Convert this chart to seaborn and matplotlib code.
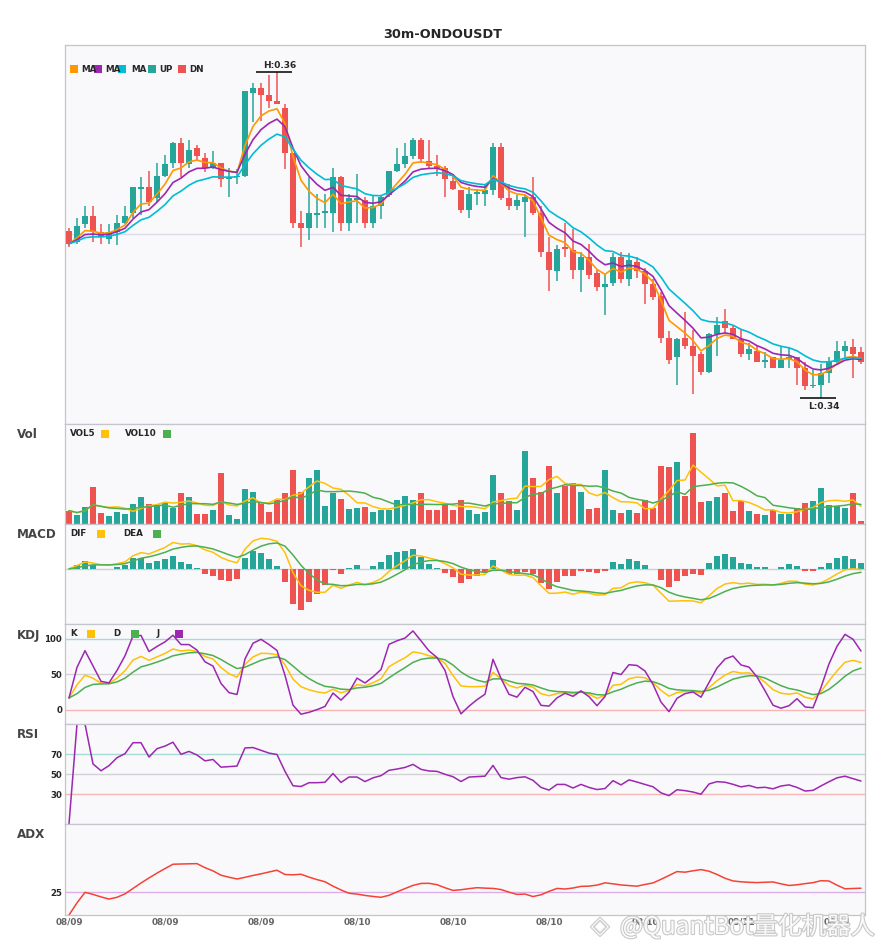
import numpy as np
import pandas as pd
import matplotlib
matplotlib.use("Agg")
import matplotlib.pyplot as plt
import matplotlib.patheffects as pe
from matplotlib.patches import Rectangle
import seaborn as sns

# ---- data: 30m candles, prices in units of 0.0001 USDT, volume in k ----
opens = [3502, 3495, 3506, 3511, 3501, 3497, 3501, 3507, 3513, 3528,
         3529, 3522, 3536, 3544, 3556, 3543, 3553, 3547, 3541, 3544,
         3534, 3535, 3536, 3587, 3590, 3586, 3582, 3578, 3550, 3507,
         3504, 3512, 3513, 3513, 3535, 3507, 3521, 3521, 3507, 3517,
         3524, 3539, 3543, 3548, 3558, 3545, 3542, 3541, 3533, 3527,
         3515, 3525, 3525, 3527, 3554, 3522, 3517, 3520, 3523, 3513,
         3489, 3477, 3492, 3490, 3478, 3486, 3476, 3467, 3470, 3486,
         3472, 3483, 3477, 3469, 3462, 3436, 3424, 3436, 3431, 3426,
         3415, 3438, 3446, 3442, 3435, 3426, 3428, 3421, 3424, 3417,
         3423, 3424, 3417, 3406, 3407, 3414, 3421, 3428, 3430, 3427]
highs = [3504, 3510, 3517, 3517, 3506, 3506, 3512, 3517, 3529, 3535,
         3539, 3544, 3549, 3557, 3559, 3558, 3555, 3550, 3551, 3544,
         3541, 3540, 3588, 3593, 3593, 3598, 3600, 3580, 3550, 3514,
         3535, 3525, 3525, 3541, 3536, 3525, 3537, 3523, 3524, 3524,
         3539, 3553, 3556, 3559, 3559, 3558, 3549, 3542, 3535, 3527,
         3529, 3528, 3531, 3556, 3556, 3531, 3524, 3524, 3535, 3517,
         3498, 3493, 3507, 3503, 3489, 3494, 3478, 3475, 3488, 3489,
         3488, 3486, 3479, 3472, 3464, 3440, 3436, 3452, 3441, 3427,
         3439, 3449, 3454, 3443, 3441, 3433, 3431, 3427, 3424, 3430,
         3430, 3424, 3421, 3416, 3420, 3424, 3434, 3434, 3435, 3430]
lows = [3492, 3494, 3504, 3495, 3494, 3494, 3493, 3506, 3510, 3512,
        3517, 3520, 3535, 3541, 3535, 3541, 3545, 3538, 3540, 3529,
        3523, 3531, 3535, 3569, 3570, 3578, 3580, 3540, 3504, 3492,
        3496, 3504, 3504, 3501, 3502, 3502, 3507, 3504, 3504, 3509,
        3523, 3538, 3541, 3546, 3544, 3540, 3536, 3523, 3527, 3513,
        3510, 3518, 3517, 3524, 3521, 3515, 3515, 3498, 3512, 3486,
        3465, 3471, 3486, 3472, 3464, 3472, 3465, 3450, 3468, 3470,
        3468, 3473, 3457, 3459, 3433, 3420, 3407, 3429, 3401, 3413,
        3414, 3425, 3439, 3435, 3424, 3422, 3421, 3417, 3417, 3417,
        3417, 3407, 3404, 3405, 3399, 3408, 3419, 3424, 3411, 3420]
closes = [3494, 3505, 3511, 3501, 3498, 3501, 3507, 3511, 3529, 3529,
          3520, 3536, 3543, 3556, 3544, 3552, 3548, 3541, 3544, 3534,
          3535, 3536, 3588, 3590, 3586, 3582, 3580, 3550, 3507, 3504,
          3513, 3513, 3514, 3535, 3507, 3522, 3522, 3507, 3517, 3523,
          3539, 3543, 3548, 3558, 3546, 3542, 3541, 3534, 3528, 3515,
          3525, 3526, 3527, 3554, 3522, 3517, 3521, 3523, 3513, 3489,
          3478, 3491, 3491, 3478, 3486, 3475, 3467, 3469, 3486, 3472,
          3484, 3477, 3469, 3461, 3436, 3422, 3435, 3431, 3425, 3415,
          3438, 3444, 3442, 3435, 3426, 3429, 3421, 3422, 3417, 3422,
          3424, 3417, 3406, 3407, 3414, 3421, 3428, 3431, 3426, 3421]
volumes = [40, 28, 52, 109, 34, 25, 37, 31, 61, 79,
           61, 58, 67, 47, 91, 79, 31, 31, 43, 151,
           28, 16, 103, 94, 67, 37, 73, 91, 160, 94,
           136, 160, 55, 91, 76, 46, 49, 52, 37, 43,
           43, 73, 82, 73, 91, 43, 43, 58, 43, 73,
           43, 31, 37, 145, 91, 70, 43, 217, 136, 94,
           172, 91, 112, 121, 94, 46, 49, 160, 43, 34,
           43, 34, 73, 49, 172, 169, 184, 82, 271, 67,
           70, 79, 91, 40, 70, 40, 31, 28, 43, 31,
           31, 49, 64, 70, 106, 58, 55, 49, 91, 10]
start_time = "2024-08-09 07:00"
symbol_title = "30m-ONDOUSDT"
watermark = "@QuantBot量化机器人"

UP, DN = "#26a69a", "#ef5350"
C_MA1, C_MA2, C_MA3 = "#ff9800", "#9c27b0", "#00bcd4"
C_Y, C_G, C_P = "#ffc107", "#4caf50", "#9c27b0"

df = pd.DataFrame({"open": opens, "high": highs, "low": lows,
                   "close": closes, "vol": volumes})
df[["open", "high", "low", "close"]] /= 10000.0
df["idx"] = np.arange(len(df))
df["time"] = pd.date_range(start_time, periods=len(df), freq="30min")
df["dir"] = np.where(df["close"] >= df["open"], "up", "dn")
o, h, l, c = df["open"], df["high"], df["low"], df["close"]

# ---- indicators ----
ma1 = c.ewm(span=5, adjust=False).mean()
ma2 = c.ewm(span=8, adjust=False).mean()
ma3 = c.ewm(span=13, adjust=False).mean()
vol5 = df["vol"].rolling(5, min_periods=1).mean()
vol10 = df["vol"].rolling(10, min_periods=1).mean()

# fast MACD (6, 13, 5)
dif = c.ewm(span=6, adjust=False).mean() - c.ewm(span=13, adjust=False).mean()
dea = dif.ewm(span=5, adjust=False).mean()
df["hist"] = 2 * (dif - dea)
df["hdir"] = np.where(df["hist"] >= 0, "up", "dn")

llv = l.rolling(9, min_periods=1).min()
hhv = h.rolling(9, min_periods=1).max()
rsv = (c - llv) / (hhv - llv) * 100
k = rsv.ewm(com=2, adjust=False).mean()
d = k.ewm(com=2, adjust=False).mean()
j = 3 * k - 2 * d

delta = c.diff().fillna(0)
gain = delta.clip(lower=0).ewm(com=13).mean()
loss = (-delta.clip(upper=0)).ewm(com=13).mean()
rsi = (100 - 100 / (1 + gain / loss)).fillna(0)

up_move = h.diff()
down_move = -l.diff()
pdm = pd.Series(np.where((up_move > down_move) & (up_move > 0), up_move, 0.0))
mdm = pd.Series(np.where((down_move > up_move) & (down_move > 0), down_move, 0.0))
prev_c = c.shift()
tr = pd.concat([h - l, (h - prev_c).abs(), (l - prev_c).abs()], axis=1).max(axis=1)
atr = tr.ewm(span=14, adjust=False).mean()
pdi = 100 * pdm.ewm(span=14, adjust=False).mean() / atr
mdi = 100 * mdm.ewm(span=14, adjust=False).mean() / atr
dx = (100 * (pdi - mdi).abs() / (pdi + mdi)).fillna(0)
adx = dx.ewm(span=14, adjust=False).mean()

# ---- layout ----
sns.set_theme(style="white")
plt.rcParams["font.family"] = ["DejaVu Sans"]

W, H = 885, 950
fig = plt.figure(figsize=(W / 100, H / 100), dpi=100)


def fx(px):
    return px / W


def fy(py):
    return 1 - py / H


def panel(top, bottom):
    ax = fig.add_axes([fx(65), fy(bottom), (865 - 65) / W, (bottom - top) / H])
    ax.set_facecolor("#f9f9fb")
    for s in ax.spines.values():
        s.set_color("#c4c4cc")
        s.set_linewidth(0.9)
    ax.tick_params(length=0, pad=2)
    return ax


def key_box(px, py, color):
    fig.add_artist(Rectangle((fx(px), fy(py + 4)), 8 / W, 8 / H,
                             transform=fig.transFigure, color=color, lw=0))


def key_text(px, py, text):
    fig.text(fx(px), fy(py), text, ha="left", va="center",
             fontsize=6.3, fontweight="bold")


def yticks(ax, vals):
    ax.set_yticks(vals)
    ax.set_yticklabels([str(v) for v in vals], fontsize=6.2, fontweight="bold")


ax_main = panel(45, 424)
ax_vol = panel(424, 524)
ax_macd = panel(524, 624)
ax_kdj = panel(624, 724)
ax_rsi = panel(724, 824)
ax_adx = panel(824, 915)

# ---- main candles ----
x = df["idx"].values
cols = np.where(df["dir"] == "up", UP, DN)
ax_main.axhline(0.35, color="#dcdce8", lw=1, zorder=0)
ax_main.vlines(x, l, h, colors=cols, lw=1.1, zorder=2)
body = np.maximum((c - o).abs(), 0.00008)
ax_main.bar(x, body, bottom=np.minimum(o, c), width=0.72, color=cols, lw=0, zorder=3)
sns.lineplot(x=x, y=ma1, color=C_MA1, lw=1.2, ax=ax_main, zorder=4)
sns.lineplot(x=x, y=ma2, color=C_MA2, lw=1.2, ax=ax_main, zorder=4)
sns.lineplot(x=x, y=ma3, color=C_MA3, lw=1.2, ax=ax_main, zorder=4)
rng = h.max() - l.min()
ax_main.set_ylim(l.min() - 0.081 * rng, h.max() + 0.083 * rng)

hi_i, lo_i = int(h.idxmax()), int(l.idxmin())
ax_main.hlines(h[hi_i], hi_i - 2.6, hi_i + 1.9, color="black", lw=1.1, zorder=5)
ax_main.annotate(f"H:{h[hi_i]:.2f}", (hi_i + 0.4, h[hi_i]), xytext=(0, 1.5),
                 textcoords="offset points", ha="center", va="bottom",
                 fontsize=6.5, fontweight="bold")
ax_main.hlines(l[lo_i], lo_i - 2.6, lo_i + 1.9, color="black", lw=1.1, zorder=5)
ax_main.annotate(f"L:{l[lo_i]:.2f}", (lo_i + 0.4, l[lo_i]), xytext=(0, -3),
                 textcoords="offset points", ha="center", va="top",
                 fontsize=6.5, fontweight="bold")

for px, col in [(70, C_MA1), (94, C_MA2), (118, C_MA3), (148, UP), (178, DN)]:
    key_box(px, 69, col)
for px, t in [(81, "MA"), (105, "MA"), (131, "MA"), (159, "UP"), (189, "DN")]:
    key_text(px, 69, t)

# ---- volume ----
sns.barplot(data=df, x="idx", y="vol", hue="dir", palette={"up": UP, "dn": DN},
            dodge=False, width=0.75, saturation=1, linewidth=0, errorbar=None,
            legend=False, ax=ax_vol)
sns.lineplot(x=x, y=vol5, color=C_Y, lw=1.1, ax=ax_vol)
sns.lineplot(x=x, y=vol10, color=C_G, lw=1.1, ax=ax_vol)
ax_vol.set_ylim(0, df["vol"].max() * 1.1)
key_text(70, 434, "VOL5")
key_box(101, 434, C_Y)
key_text(125, 434, "VOL10")
key_box(163, 434, C_G)

# ---- MACD ----
sns.barplot(data=df, x="idx", y="hist", hue="hdir", palette={"up": UP, "dn": DN},
            dodge=False, width=0.75, saturation=1, linewidth=0, errorbar=None,
            legend=False, ax=ax_macd)
ax_macd.axhline(0, color="#cfcfd6", lw=1, zorder=0)
sns.lineplot(x=x, y=dif, color=C_Y, lw=1.1, ax=ax_macd)
sns.lineplot(x=x, y=dea, color=C_G, lw=1.1, ax=ax_macd)
mlo = min(df["hist"].min(), dif.min(), dea.min())
mhi = max(df["hist"].max(), dif.max(), dea.max())
mpad = 0.2 * (mhi - mlo)
ax_macd.set_ylim(mlo - mpad, mhi + mpad)
key_text(70, 534, "DIF")
key_box(97, 534, C_Y)
key_text(123, 534, "DEA")
key_box(153, 534, C_G)

# ---- KDJ ----
ax_kdj.axhline(100, color="#a6dad2", lw=1, zorder=0)
ax_kdj.axhline(50, color="#d2d2d6", lw=1, zorder=0)
ax_kdj.axhline(0, color="#f6b6b6", lw=1, zorder=0)
sns.lineplot(x=x, y=k, color=C_Y, lw=1.1, ax=ax_kdj)
sns.lineplot(x=x, y=d, color=C_G, lw=1.1, ax=ax_kdj)
sns.lineplot(x=x, y=j, color=C_P, lw=1.1, ax=ax_kdj)
ax_kdj.set_ylim(-20, 121)
yticks(ax_kdj, [0, 50, 100])
key_text(70, 634, "K")
key_box(87, 634, C_Y)
key_text(113, 634, "D")
key_box(131, 634, C_G)
key_text(157, 634, "J")
key_box(175, 634, C_P)

# ---- RSI ----
ax_rsi.axhline(70, color="#a6dad2", lw=1, zorder=0)
ax_rsi.axhline(50, color="#d2d2d6", lw=1, zorder=0)
ax_rsi.axhline(30, color="#f6b6b6", lw=1, zorder=0)
sns.lineplot(x=x, y=rsi, color=C_P, lw=1.1, ax=ax_rsi)
ax_rsi.set_ylim(0, 100)
yticks(ax_rsi, [30, 50, 70])

# ---- ADX ----
ax_adx.axhline(25, color="#dcaee8", lw=1, zorder=0)
sns.lineplot(x=x, y=adx, color="#f44336", lw=1.1, ax=ax_adx)
ax_adx.set_ylim(0, 100)
yticks(ax_adx, [25])
ticks = list(range(0, len(df), 12))

for ax in [ax_main, ax_vol, ax_macd, ax_kdj, ax_rsi, ax_adx]:
    ax.set_xlim(-0.5, len(df) - 0.5)
    ax.set_xlabel("")
    ax.set_ylabel("")
    ax.set_xticks([])
for ax in [ax_main, ax_vol, ax_macd]:
    ax.set_yticks([])

ax_adx.set_xticks(ticks)
ax_adx.set_xticklabels(df["time"].dt.strftime("%m/%d").iloc[ticks],
                       fontsize=6.4, fontweight="bold", color="#666666")

# ---- labels ----
fig.text(fx(443), fy(34), symbol_title, ha="center", va="center",
         fontsize=9.3, fontweight="bold")
for py, t in [(435, "Vol"), (535, "MACD"), (635, "KDJ"), (735, "RSI"), (835, "ADX")]:
    fig.text(fx(17), fy(py), t, ha="left", va="center", fontsize=8.6,
             fontweight="bold", color="#444444")

halo = [pe.withStroke(linewidth=1.6, foreground="#c4c4c4")]
fig.text(fx(600), fy(926), "◈", ha="center", va="center", fontsize=17,
         color="white", alpha=0.9, zorder=10, path_effects=halo)
fig.text(fx(620), fy(927), watermark, ha="left", va="center", fontsize=17.5,
         color="white", alpha=0.9, zorder=10,
         family=["Noto Sans CJK SC", "DejaVu Sans"], path_effects=halo)

fig.savefig("out.png", dpi=100, facecolor="white")
